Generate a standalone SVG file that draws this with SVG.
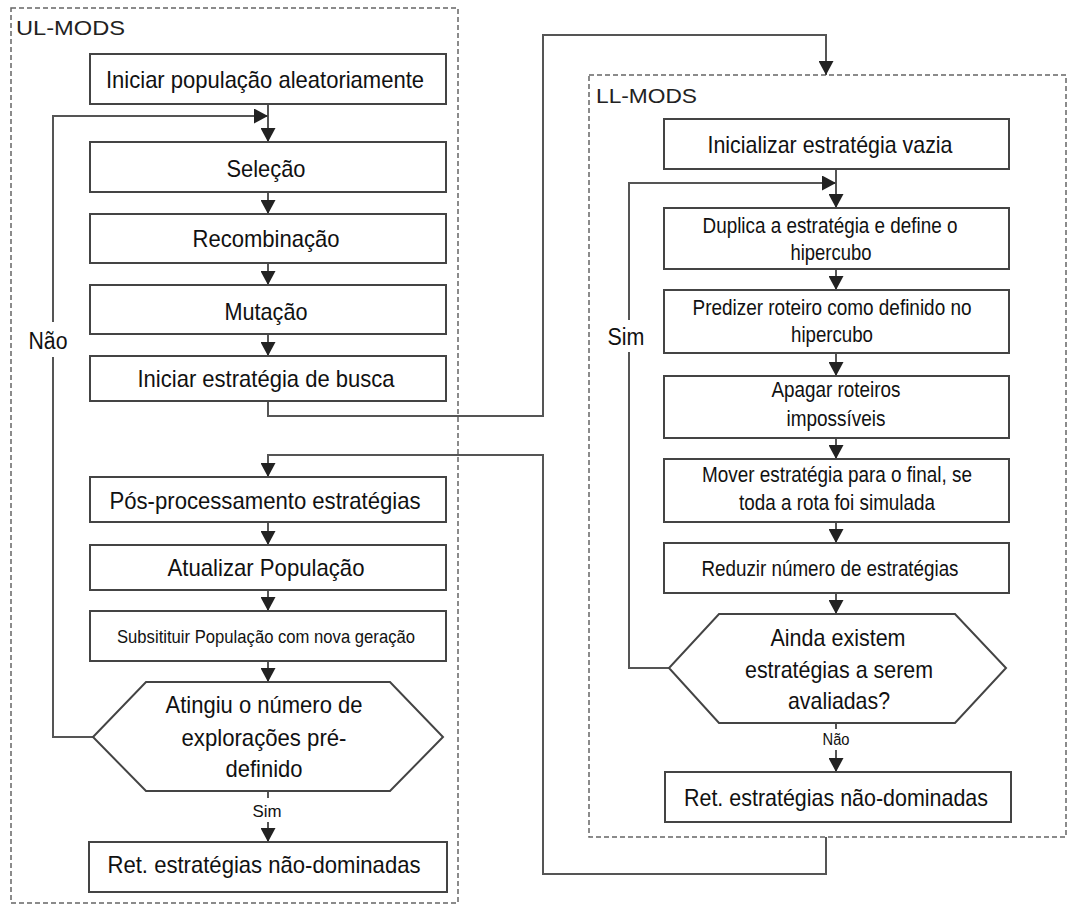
<svg xmlns="http://www.w3.org/2000/svg" width="1069" height="907" viewBox="0 0 1069 907">
<style>
.box{fill:#fff;stroke:#444;stroke-width:2}
.cont{fill:none;stroke:#666;stroke-width:1.5;stroke-dasharray:5 3}
.ln{fill:none;stroke:#555;stroke-width:2}
text{font-family:"Liberation Sans Narrow","Liberation Sans",Arial,sans-serif;fill:#111;text-anchor:middle}
.t{font-size:24px}
.s{font-size:22px}
.title{font-size:21px;text-anchor:start;fill:#222}
</style>
<defs>
<marker id="ah" markerUnits="userSpaceOnUse" markerWidth="15" markerHeight="15" viewBox="0 0 15 15" refX="14" refY="7.5" orient="auto">
<path d="M0,0 L14,7.5 L0,15 Z" fill="#222"/>
</marker>
</defs>
<rect width="1069" height="907" fill="#fff"/>
<g id="containers">
<rect class="cont" x="11" y="8" width="447" height="895"/>
<rect class="cont" x="589" y="75" width="477" height="762"/>
<text class="title" x="16" y="35" textLength="109" lengthAdjust="spacingAndGlyphs">UL-MODS</text>
<text class="title" x="596" y="103" textLength="101" lengthAdjust="spacingAndGlyphs">LL-MODS</text>
</g>
<g id="connectors">
<path class="ln" d="M268,104 V142" marker-end="url(#ah)"/>
<path class="ln" d="M93,737 H53 V357 M53,322 V116 H268" marker-end="url(#ah)"/>
<path class="ln" d="M268,192 V214" marker-end="url(#ah)"/>
<path class="ln" d="M268,263 V285" marker-end="url(#ah)"/>
<path class="ln" d="M268,334 V356" marker-end="url(#ah)"/>
<path class="ln" d="M268,401 V416 H543 V35 H826 V75" marker-end="url(#ah)"/>
<path class="ln" d="M826,837 V874 H543 V455 H268 V477" marker-end="url(#ah)"/>
<path class="ln" d="M268,522 V545" marker-end="url(#ah)"/>
<path class="ln" d="M268,590 V611" marker-end="url(#ah)"/>
<path class="ln" d="M268,661 V682" marker-end="url(#ah)"/>
<path class="ln" d="M268,791 V798 M268,822 V842" marker-end="url(#ah)"/>
<path class="ln" d="M836,169 V208" marker-end="url(#ah)"/>
<path class="ln" d="M669,668 H629 V352 M629,320 V183 H836" marker-end="url(#ah)"/>
<path class="ln" d="M836,269 V290" marker-end="url(#ah)"/>
<path class="ln" d="M836,353 V376" marker-end="url(#ah)"/>
<path class="ln" d="M836,438 V459" marker-end="url(#ah)"/>
<path class="ln" d="M836,522 V543" marker-end="url(#ah)"/>
<path class="ln" d="M836,593 V614" marker-end="url(#ah)"/>
<path class="ln" d="M836,723 V729 M836,750 V772" marker-end="url(#ah)"/>
<text x="48" y="349" style="font-size:23px" textLength="39" lengthAdjust="spacingAndGlyphs">Não</text>
<text x="267" y="817" style="font-size:17px" textLength="29" lengthAdjust="spacingAndGlyphs">Sim</text>
<text x="626" y="345" style="font-size:23px" textLength="37" lengthAdjust="spacingAndGlyphs">Sim</text>
<text x="836" y="745" style="font-size:16px" textLength="27" lengthAdjust="spacingAndGlyphs">Não</text>
</g>
<g id="n1"><rect class="box" x="90" y="54" width="356" height="50"/><text class="t" x="265" y="88" textLength="318" lengthAdjust="spacingAndGlyphs">Iniciar população aleatoriamente</text></g>
<g id="n2"><rect class="box" x="90" y="142" width="356" height="50"/><text class="t" x="266" y="177" textLength="79" lengthAdjust="spacingAndGlyphs">Seleção</text></g>
<g id="n3"><rect class="box" x="90" y="214" width="356" height="49"/><text class="t" x="266" y="247" textLength="147" lengthAdjust="spacingAndGlyphs">Recombinação</text></g>
<g id="n4"><rect class="box" x="90" y="285" width="356" height="49"/><text class="t" x="266" y="320" textLength="83" lengthAdjust="spacingAndGlyphs">Mutação</text></g>
<g id="n5"><rect class="box" x="90" y="356" width="356" height="45"/><text class="t" x="266" y="387" textLength="257" lengthAdjust="spacingAndGlyphs">Iniciar estratégia de busca</text></g>
<g id="n6"><rect class="box" x="90" y="477" width="356" height="45"/><text class="t" x="265" y="509" textLength="311" lengthAdjust="spacingAndGlyphs">Pós-processamento estratégias</text></g>
<g id="n7"><rect class="box" x="90" y="545" width="356" height="45"/><text class="t" x="266" y="576" textLength="197" lengthAdjust="spacingAndGlyphs">Atualizar População</text></g>
<g id="n8"><rect class="box" x="90" y="611" width="356" height="50"/><text x="266" y="643" style="font-size:19px" textLength="298" lengthAdjust="spacingAndGlyphs">Subsitituir População com nova geração</text></g>
<g id="n9"><polygon class="box" points="146,682 390,682 443,737 390,791 146,791 93,737"/>
<text class="t" x="264" y="713" textLength="197" lengthAdjust="spacingAndGlyphs">Atingiu o número de</text>
<text class="t" x="264" y="746" textLength="165" lengthAdjust="spacingAndGlyphs">explorações pré-</text>
<text class="t" x="264" y="777" textLength="77" lengthAdjust="spacingAndGlyphs">definido</text></g>
<g id="n10"><rect class="box" x="89" y="842" width="358" height="50"/><text class="t" x="264" y="873" textLength="313" lengthAdjust="spacingAndGlyphs">Ret. estratégias não-dominadas</text></g>
<g id="m1"><rect class="box" x="664" y="119" width="345" height="50"/><text class="t" x="830" y="153" textLength="245" lengthAdjust="spacingAndGlyphs">Inicializar estratégia vazia</text></g>
<g id="m2"><rect class="box" x="664" y="208" width="345" height="61"/><text class="s" x="830" y="233" textLength="255" lengthAdjust="spacingAndGlyphs">Duplica a estratégia e define o</text><text class="s" x="831" y="260" textLength="81" lengthAdjust="spacingAndGlyphs">hipercubo</text></g>
<g id="m3"><rect class="box" x="664" y="290" width="345" height="63"/><text class="s" x="832" y="315" textLength="279" lengthAdjust="spacingAndGlyphs">Predizer roteiro como definido no</text><text class="s" x="832" y="342" textLength="82" lengthAdjust="spacingAndGlyphs">hipercubo</text></g>
<g id="m4"><rect class="box" x="664" y="376" width="345" height="62"/><text class="s" x="836" y="397" textLength="129" lengthAdjust="spacingAndGlyphs">Apagar roteiros</text><text class="s" x="836" y="426" textLength="99" lengthAdjust="spacingAndGlyphs">impossíveis</text></g>
<g id="m5"><rect class="box" x="664" y="459" width="345" height="63"/><text class="s" x="837" y="482" textLength="270" lengthAdjust="spacingAndGlyphs">Mover estratégia para o final, se</text><text class="s" x="837" y="510" textLength="196" lengthAdjust="spacingAndGlyphs">toda a rota foi simulada</text></g>
<g id="m6"><rect class="box" x="664" y="543" width="345" height="50"/><text class="s" x="830" y="576" textLength="257" lengthAdjust="spacingAndGlyphs">Reduzir número de estratégias</text></g>
<g id="m7"><polygon class="box" points="719,614 955,614 1006,668 955,723 719,723 669,668"/>
<text class="t" x="838" y="646" textLength="135" lengthAdjust="spacingAndGlyphs">Ainda existem</text>
<text class="t" x="839" y="678" textLength="188" lengthAdjust="spacingAndGlyphs">estratégias a serem</text>
<text class="t" x="839" y="709" textLength="102" lengthAdjust="spacingAndGlyphs">avaliadas?</text></g>
<g id="m8"><rect class="box" x="665" y="772" width="346" height="50"/><text class="t" x="836" y="806" textLength="304" lengthAdjust="spacingAndGlyphs">Ret. estratégias não-dominadas</text></g>
</svg>
